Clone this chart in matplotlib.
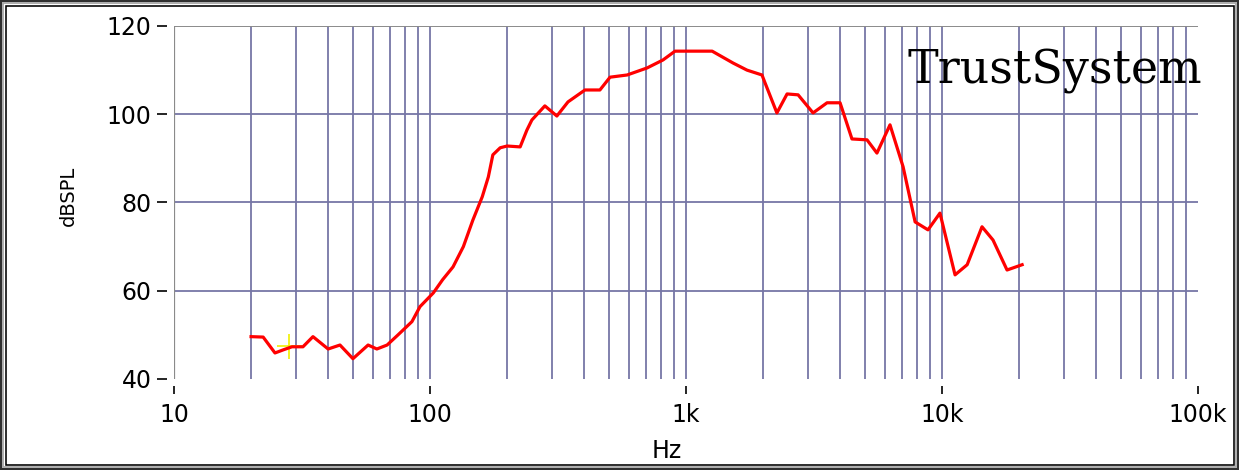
import matplotlib
matplotlib.use("Agg")
import matplotlib.pyplot as plt
from matplotlib.patches import Rectangle
from matplotlib.ticker import FixedLocator, FixedFormatter, NullLocator


FREQ_HZ = [
    20, 22.3, 24.8, 26.7, 28.9, 31.9, 34.9, 40, 44.5, 50, 57.3, 62, 68, 75, 85,
    91.4, 103, 112, 123, 135, 147, 160, 169, 176, 188, 200, 225, 239, 250, 281,
    313, 346, 403, 461, 505, 589, 705, 813, 906, 1265, 1528, 1731, 1981, 2030,
    2265, 2482, 2741, 3136, 3556, 3998, 4449, 5095, 5570, 6264, 7047, 7852,
    8817, 9818, 11245, 12540, 14330, 15820, 17950, 20560,
]
SPL_DB = [
    49.6, 49.5, 45.9, 46.6, 47.3, 47.3, 49.6, 46.8, 47.7, 44.6, 47.7, 46.8, 47.7, 50.0, 53.0,
    56.4, 59.5, 62.5, 65.4, 70.0, 76.0, 81.3, 85.8, 90.8, 92.4, 92.8, 92.6, 96.4, 98.7, 101.9,
    99.6, 102.8, 105.5, 105.5, 108.4, 108.9, 110.5, 112.3, 114.3, 114.3, 111.6, 110.0, 108.9, 107.3,
    100.3, 104.6, 104.4, 100.3, 102.6, 102.6, 94.4, 94.2, 91.2, 97.6, 88.1, 75.6,
    73.8, 77.6, 63.6, 65.9, 74.5, 71.5, 64.7, 65.9,
]

CURSOR_HZ = [28.1]
CURSOR_DB = [47.5]

X_TICKS = [10, 100, 1000, 10000, 100000]
X_TICK_LABELS = ["10", "100", "1k", "10k", "100k"]
Y_TICKS = [40, 60, 80, 100, 120]
H_GRID = [60, 80, 100]

W, H = 1239, 470
GRID_COLOR = "#7676a6"

fig = plt.figure(figsize=(W / 100, H / 100), dpi=100)
ax = fig.add_axes([174 / W, (H - 379) / H, 1024 / W, 353 / H])

ax.set_xscale("log")
ax.set_xlim(10, 100000)
ax.set_ylim(40, 120)

# grid: every 1..9 multiple from 20 Hz up to 90 kHz
grid_f = [m * 10 ** d for d in range(1, 5) for m in range(1, 10) if m * 10 ** d >= 20]
ax.vlines(grid_f, 40, 120, color=GRID_COLOR, linewidth=1.3, zorder=1)
for v in H_GRID:
    ax.axhline(v, color=GRID_COLOR, linewidth=1.3, zorder=1)
ax.axhline(120, color="#8a8a8a", linewidth=1.4, zorder=1.5)
ax.axvline(10, color="#8a8a8a", linewidth=1.6, zorder=1.5)

ax.plot(CURSOR_HZ, CURSOR_DB, marker="+", markersize=18, markeredgewidth=1.2,
        color="#f0f000", linestyle="none", zorder=2)
ax.plot(FREQ_HZ, SPL_DB, color="#ff0000", linewidth=2.3, zorder=3)

for side in ["top", "right"]:
    ax.spines[side].set_visible(False)
for side in ["left", "bottom"]:
    ax.spines[side].set_position(("outward", 5))
    ax.spines[side].set_visible(False)

ax.xaxis.set_major_locator(FixedLocator(X_TICKS))
ax.xaxis.set_major_formatter(FixedFormatter(X_TICK_LABELS))
ax.xaxis.set_minor_locator(NullLocator())
ax.set_yticks(Y_TICKS)
ax.tick_params(axis="x", direction="out", length=6, width=1.2, pad=6,
               labelsize=17, colors="black")
ax.tick_params(axis="y", direction="out", length=7, width=1.2, pad=4,
               labelsize=17, colors="black")

fig.text(68 / W, 1 - 196 / H, "dBSPL", rotation=90, ha="center", va="center", fontsize=14)
fig.text(667 / W, 1 - 451 / H, "Hz", ha="center", va="center", fontsize=17)
fig.text(1202 / W, 1 - 83 / H, "TrustSystem", ha="right", va="baseline",
         fontsize=33, family="DejaVu Serif", color="black")

# window frame
def frame(off_px, lw_px, color):
    fig.patches.append(Rectangle(
        (off_px / W, off_px / H), 1 - 2 * off_px / W, 1 - 2 * off_px / H,
        transform=fig.transFigure, fill=False, edgecolor=color,
        linewidth=lw_px * 0.72, zorder=10))

frame(1.0, 2.2, "#303030")
frame(3.0, 1.8, "#a8a8a8")
frame(5.5, 1.6, "#000000")

fig.savefig("out.png", dpi=100)
